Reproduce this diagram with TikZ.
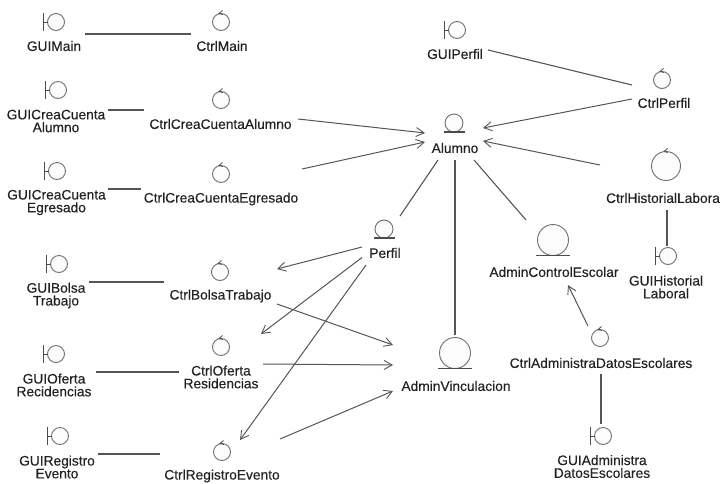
\documentclass[tikz,border=0pt]{standalone}
\usepackage{fontspec}
\setmainfont{Liberation Sans}
\newfontfamily\tagfont[FakeBold=0.3]{Liberation Sans}
\usetikzlibrary{arrows.meta}
\definecolor{linecol}{HTML}{555555}
\definecolor{iconcol}{HTML}{707070}
\definecolor{iconfill}{HTML}{FCFCFC}
\definecolor{textcol}{HTML}{222222}
\tikzset{
  x=1pt,y=-1pt,
  iconball/.style={circle,draw=iconcol,fill=iconfill,line width=0.9pt,inner sep=0pt,outer sep=0pt},
  iconmark/.style={draw=black!70,line width=1pt},
  tagtext/.style={text=textcol,align=center,inner sep=0pt,font=\tagfont\fontsize{13.75}{12.8}\selectfont},
  assoc/.style={draw=linecol,line width=1.1pt},
  navig/.style={draw=linecol,line width=1pt,-{Straight Barb[length=8pt,width=9pt,line width=0.9pt]}}
}
% boundary: circle with a bar on its left
\newcommand{\guiicon}[3]{%
  \node[iconball,minimum size=17pt] (#1) at (#2,#3) {};
  \draw[iconmark] ([shift={(-13,-9)}]#1.center) -- ([shift={(-13,9)}]#1.center);
  \draw[iconmark,line width=.8pt] ([shift={(-13,0)}]#1.center) -- (#1.west);
}
% control: circle with a small tick at its top
\newcommand{\ctrlicon}[4]{%
  \node[iconball,minimum size=#4] (#1) at (#2,#3) {};
  \draw[iconmark,line width=.8pt] ([shift={(1.5,-3)}]#1.north) -- ([shift={(-2,0)}]#1.north) -- ([shift={(2,1)}]#1.north);
}
% entity: circle resting on a line
\newcommand{\entityicon}[4]{%
  \node[iconball,minimum size=#4] (#1) at (#2,#3) {};
  \draw[iconmark,line width=1.1pt] ([xshift=-1.5pt-.5*#4]#1.south) -- ([xshift=1.5pt+.5*#4]#1.south);
}
\newcommand{\tagat}[4]{\node[tagtext] (#1) at (#2,#3) {#4};}
\newcommand{\linkit}[5]{\path[#1] ([shift={(#3)}]#2.center) -- ([shift={(#5)}]#4.center);}
\begin{document}
\begin{tikzpicture}
\useasboundingbox (0,0) rectangle (721,483);
\begin{scope}
\clip (0,0) rectangle (721,483);
% icons
\guiicon{guimain}{56}{22}
\ctrlicon{ctrlmain}{221}{22}{17pt}
\guiicon{guia}{58}{90}
\ctrlicon{ctrla}{221}{100}{17pt}
\guiicon{guie}{57}{171}
\ctrlicon{ctrle}{221}{174}{17pt}
\guiicon{guib}{59}{264}
\ctrlicon{ctrlb}{220}{272}{17pt}
\guiicon{guio}{56}{354}
\ctrlicon{ctrlo}{221}{347}{17pt}
\guiicon{guir}{60}{436}
\ctrlicon{ctrlr}{222}{452}{17pt}
\guiicon{guip}{457}{30}
\ctrlicon{ctrlp}{662}{80}{17pt}
\ctrlicon{ctrlh}{666}{166}{29pt}
\guiicon{guih}{668}{256}
\ctrlicon{ctrld}{600}{338}{17pt}
\guiicon{guid}{603}{436}
\entityicon{alumno}{454}{123}{18pt}
\entityicon{perfil}{384}{229}{18pt}
\entityicon{adminc}{553}{240}{31pt}
\entityicon{adminv}{455}{353}{31pt}
% labels
\tagat{tguimain}{54}{46}{GUIMain}
\tagat{tctrlmain}{222}{46}{CtrlMain}
\tagat{tguia}{56}{121}{GUICreaCuenta\\Alumno}
\tagat{tctrla}{220.5}{124}{CtrlCreaCuentaAlumno}
\tagat{tguie}{56.5}{202.5}{GUICreaCuenta\\Egresado}
\tagat{tctrle}{221}{199}{CtrlCreaCuentaEgresado}
\tagat{tguib}{56}{295.5}{GUIBolsa\\Trabajo}
\tagat{tctrlb}{220.5}{296}{CtrlBolsaTrabajo}
\tagat{tguio}{54}{385}{GUIOferta\\Recidencias}
\tagat{tctrlo}{221}{377}{CtrlOferta\\Residencias}
\tagat{tguir}{57}{467}{GUIRegistro\\Evento}
\tagat{tctrlr}{222}{476}{CtrlRegistroEvento}
\tagat{tguip}{455}{54}{GUIPerfil}
\tagat{tctrlp}{664}{103}{CtrlPerfil}
\tagat{talumno}{455}{148}{Alumno}
\tagat{tperfil}{385}{253}{Perfil}
\tagat{tctrlh}{663}{198}{CtrlHistorialLabora}
\tagat{tguih}{666}{287}{GUIHistorial\\Laboral}
\tagat{tadminc}{554}{272}{AdminControlEscolar}
\tagat{tctrld}{601}{363}{CtrlAdministraDatosEscolares}
\tagat{tadminv}{456}{386}{AdminVinculacion}
\tagat{tguid}{602}{466.5}{GUIAdministra\\DatosEscolares}
% plain associations
\linkit{assoc}{guimain}{29,12}{ctrlmain}{-30,12}
\linkit{assoc}{guia}{50,20}{ctrla}{-77,10}
\linkit{assoc}{guie}{51,18}{ctrle}{-80,15}
\linkit{assoc}{guib}{30,18}{ctrlb}{-56,10}
\linkit{assoc}{guio}{40,18}{ctrlo}{-42,25}
\linkit{assoc}{guir}{38,18}{ctrlr}{-62,2}
\linkit{assoc}{guip}{31,20}{ctrlp}{-30,5}
\linkit{assoc}{ctrlh}{1,44}{guih}{-1,-10}
\linkit{assoc}{alumno}{-16,37}{perfil}{16,-13}
\linkit{assoc}{alumno}{1,37}{adminv}{0,-18}
\linkit{assoc}{alumno}{20,37}{adminc}{-27,-20}
\linkit{assoc}{ctrld}{1,36}{guid}{-2,-12}
% directed associations
\linkit{navig}{ctrlp}{-30,19}{alumno}{29,5}
\linkit{navig}{ctrla}{77,19}{alumno}{-29,10}
\linkit{navig}{ctrle}{81,-5}{alumno}{-29,19}
\linkit{navig}{ctrlh}{-66,-1}{alumno}{29,18}
\linkit{navig}{ctrld}{-12,-12}{adminc}{15,45}
\linkit{navig}{perfil}{-22,18}{ctrlb}{57,-3}
\linkit{navig}{perfil}{-22,28.5}{ctrlo}{40,-13}
\linkit{navig}{perfil}{-18,36}{ctrlr}{18,-12}
\linkit{navig}{ctrlb}{57,32}{adminv}{-62,-8}
\linkit{navig}{ctrlo}{42,17}{adminv}{-62,12}
\linkit{navig}{ctrlr}{58,-13}{adminv}{-62,38}
\end{scope}
\end{tikzpicture}
\end{document}
